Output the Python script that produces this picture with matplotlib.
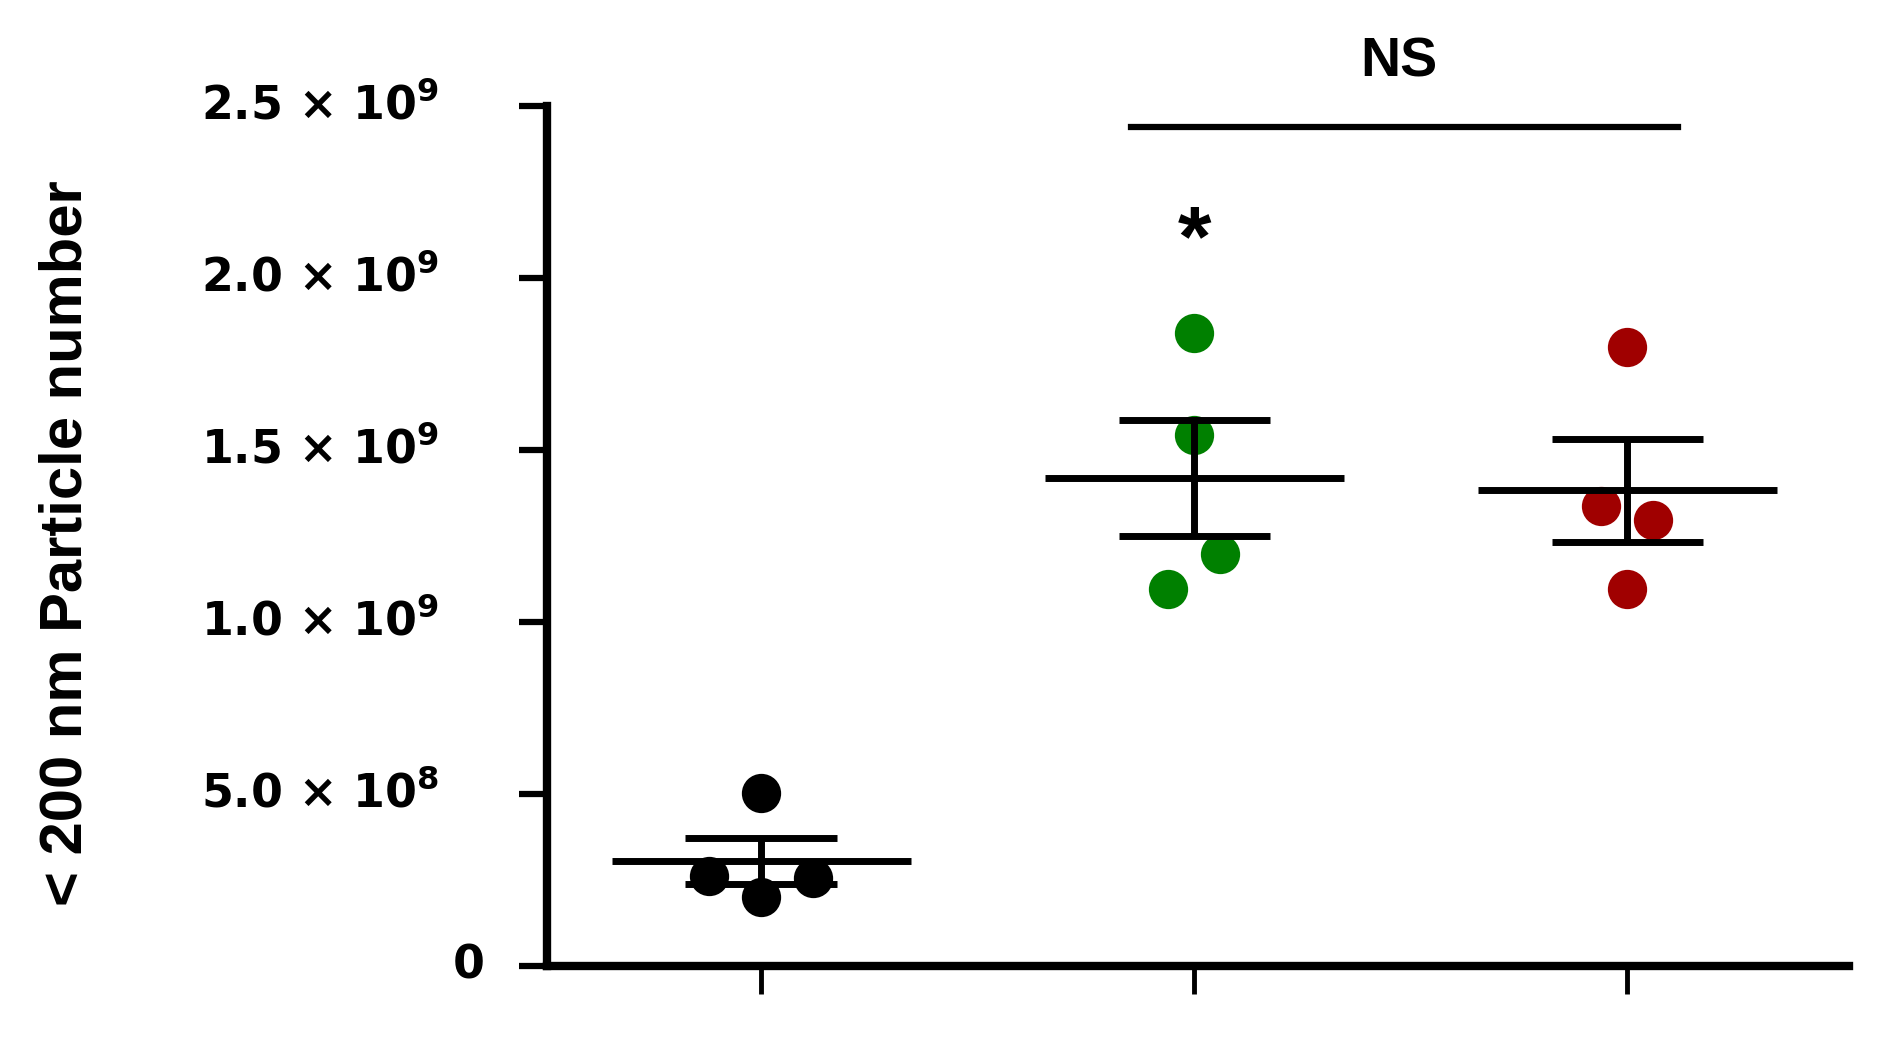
import numpy as np
import matplotlib
matplotlib.use("Agg")
import matplotlib.pyplot as plt
from matplotlib.transforms import blended_transform_factory

# Данные
groups = ["Control", "Group 2", "Group 3"]
control_vals = [0.503e9, 0.262e9, 0.255e9, 0.199e9]
green_vals = [1.839e9, 1.542e9, 1.196e9, 1.094e9]
red_vals = [1.800e9, 1.336e9, 1.297e9, 1.094e9]
colors = ["#000000", "#008000", "#a00000"]
y_ticks = [0, 0.5e9, 1.0e9, 1.5e9, 2.0e9, 2.5e9]
y_tick_labels = ["0", r"5.0 × 10$^{8}$", r"1.0 × 10$^{9}$", r"1.5 × 10$^{9}$",
                 r"2.0 × 10$^{9}$", r"2.5 × 10$^{9}$"]

# небольшой разброс точек по x, как на оригинале
jitter = [[0, -0.12, 0.12, 0], [0, 0, 0.06, -0.06], [0, -0.06, 0.06, 0]]

plt.rcParams["font.family"] = ["Liberation Sans", "DejaVu Sans"]
plt.rcParams["font.weight"] = "bold"
plt.rcParams["mathtext.fontset"] = "custom"
plt.rcParams["mathtext.rm"] = "DejaVu Sans:bold"
plt.rcParams["mathtext.bf"] = "DejaVu Sans:bold"

fig = plt.figure(figsize=(18.86, 10.63), dpi=100)
ax = fig.add_axes([0.2902, 0.0916, 0.69, 0.8089])

all_vals = [control_vals, green_vals, red_vals]
for i, vals in enumerate(all_vals):
    vals = np.array(vals)
    xs = i + np.array(jitter[i])
    ax.scatter(xs, vals, s=800, color=colors[i], zorder=2, linewidths=0)
    mean = vals.mean()
    sem = vals.std(ddof=1) / np.sqrt(len(vals))
    ax.hlines(mean, i - 0.345, i + 0.345, color="black", lw=5, zorder=3)
    ax.hlines([mean - sem, mean + sem], i - 0.175, i + 0.175, color="black", lw=5, zorder=3)
    ax.vlines(i, mean - sem, mean + sem, color="black", lw=5, zorder=3)

ax.set_xlim(-0.494, 2.511)
ax.set_ylim(0, 2.5e9)

for side in ["top", "right"]:
    ax.spines[side].set_visible(False)
for side in ["left", "bottom"]:
    ax.spines[side].set_linewidth(6)

ax.set_xticks([0, 1, 2])
ax.set_xticklabels([])
ax.tick_params(axis="x", direction="out", length=20, width=3.5)
ax.set_yticks(y_ticks)
ax.set_yticklabels([])
ax.tick_params(axis="y", direction="out", length=20, width=4.5)

# подписи оси Y вручную (у нуля другой отступ), шрифт пошире
trans = blended_transform_factory(ax.transAxes, ax.transData)
for val, lab in zip(y_ticks, y_tick_labels):
    x_pos = -0.048 if val == 0 else -0.083
    ax.text(x_pos, val, lab, transform=trans, ha="right", va="center",
            fontsize=33, fontweight="bold", family="DejaVu Sans", clip_on=False)

fig.text(0.035, 0.489, "< 200 nm Particle number", rotation=90,
         ha="center", va="center", fontsize=43, fontweight="bold")

# значимость
ax.text(1, 2.10e9, "*", ha="center", va="center", fontsize=62, fontweight="bold")
ax.plot([0.853, 2.117], [2.437e9, 2.437e9], color="black", lw=4.5, clip_on=False)
ax.text(1.472, 2.626e9, "NS", ha="center", va="center", fontsize=40,
        fontweight="bold", family=["Liberation Sans Narrow", "Liberation Sans"],
        clip_on=False)

fig.savefig("out.png", dpi=100)
